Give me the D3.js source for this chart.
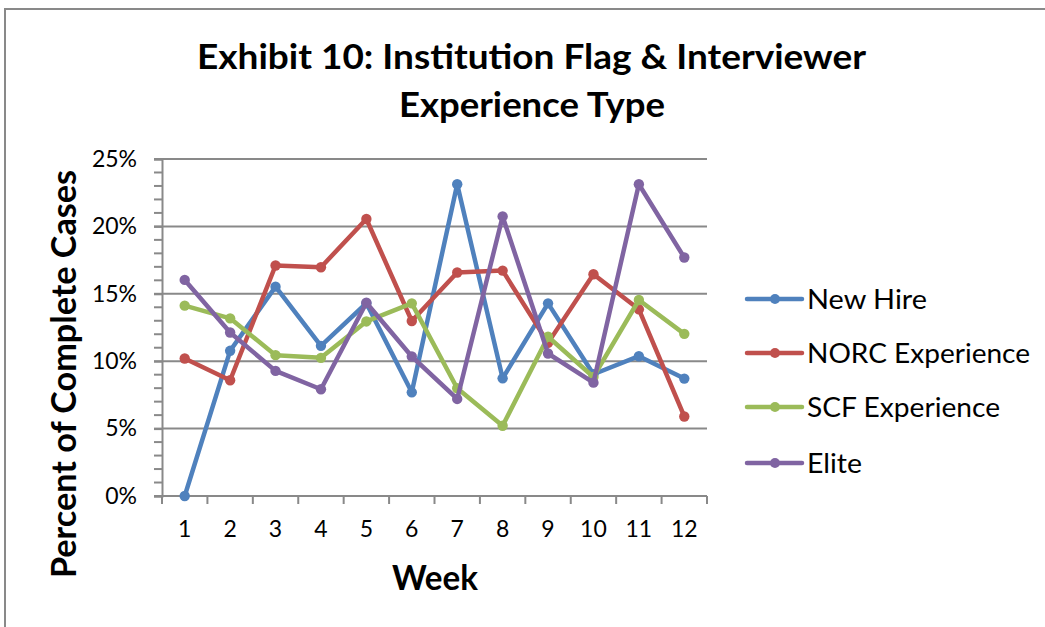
<!DOCTYPE html>
<html>
<head>
<meta charset="utf-8">
<script src="https://cdn.jsdelivr.net/npm/d3@7/dist/d3.min.js"></script>
<style>
  html, body { margin: 0; padding: 0; background: #fff; }
  svg { display: block; }
  text { font-family: Lato, "Open Sans", sans-serif; fill: #000; }
</style>
</head>
<body>
<svg id="chart" width="1045" height="627"></svg>
<script>
// ---- Data ----
const weeks = ["1","2","3","4","5","6","7","8","9","10","11","12"];
const seriesNames = ["New Hire", "NORC Experience", "SCF Experience", "Elite"];
const newHire = [0.00, 10.77, 15.53, 11.14, 14.30, 7.69, 23.13, 8.73, 14.29, 9.03, 10.37, 8.71];
const norcExperience = [10.20, 8.59, 17.10, 16.97, 20.55, 12.98, 16.58, 16.72, 11.36, 16.45, 13.85, 5.90];
const scfExperience = [14.12, 13.18, 10.45, 10.25, 12.95, 14.29, 7.99, 5.21, 11.81, 8.83, 14.54, 12.03];
const elite = [16.03, 12.13, 9.28, 7.92, 14.34, 10.35, 7.20, 20.74, 10.57, 8.41, 23.13, 17.69];
const yTicks = [0, 5, 10, 15, 20, 25];
const yTickLabels = ["0%", "5%", "10%", "15%", "20%", "25%"];
const colors = ["#4F81BD", "#C0504D", "#9BBB59", "#8064A2"];

const seriesValues = [newHire, norcExperience, scfExperience, elite];

const svg = d3.select("#chart");
const axisColor = "#898989";

// chart border
svg.append("rect")
  .attr("x", 5).attr("y", 9)
  .attr("width", 1100).attr("height", 700)
  .attr("fill", "none").attr("stroke", axisColor).attr("stroke-width", 2);

const plot = { left: 162, right: 707, top: 159, bottom: 496 };

const x = d3.scaleBand().domain(weeks).range([plot.left, plot.right]);
const y = d3.scaleLinear().domain([0, 25]).range([plot.bottom, plot.top]);

// gridlines
svg.append("g").selectAll("line")
  .data(yTicks.filter(d => d > 0))
  .join("line")
  .attr("x1", plot.left).attr("x2", plot.right)
  .attr("y1", d => y(d)).attr("y2", d => y(d))
  .attr("stroke", axisColor).attr("stroke-width", 2);

// minor y ticks (every 1%)
svg.append("g").selectAll("line")
  .data(d3.range(0, 26, 1))
  .join("line")
  .attr("x1", plot.left - 8).attr("x2", plot.left)
  .attr("y1", d => y(d)).attr("y2", d => y(d))
  .attr("stroke", axisColor).attr("stroke-width", 2);

// y axis
const yAxis = d3.axisLeft(y)
  .tickValues(yTicks)
  .tickFormat((d, i) => yTickLabels[i])
  .tickSize(8).tickPadding(17);
const gy = svg.append("g").attr("transform", `translate(${plot.left},0)`).call(yAxis);
gy.select(".domain").attr("stroke", axisColor).attr("stroke-width", 2);
gy.selectAll(".tick line").attr("stroke", axisColor).attr("stroke-width", 2);
gy.selectAll(".tick text").style("font-family", "Lato").style("font-size", "23px").attr("fill", "#000");

// x axis (labels at band centers)
const xAxis = d3.axisBottom(x).tickSize(0).tickPadding(25);
const gx = svg.append("g").attr("transform", `translate(0,${plot.bottom})`).call(xAxis);
gx.select(".domain").remove();
gx.selectAll(".tick text").style("font-family", "Lato").style("font-size", "23px").attr("fill", "#000");

// x axis line + boundary ticks
svg.append("line")
  .attr("x1", plot.left).attr("x2", plot.right)
  .attr("y1", plot.bottom).attr("y2", plot.bottom)
  .attr("stroke", axisColor).attr("stroke-width", 2);
const boundaries = weeks.map(w => x(w)).concat([x(weeks[weeks.length - 1]) + x.bandwidth()]);
svg.append("g").selectAll("line")
  .data(boundaries)
  .join("line")
  .attr("x1", d => d).attr("x2", d => d)
  .attr("y1", plot.bottom).attr("y2", plot.bottom + 8)
  .attr("stroke", axisColor).attr("stroke-width", 2);

// lines and markers
const line = d3.line()
  .x((d, i) => x(weeks[i]) + x.bandwidth() / 2)
  .y(d => y(d));

seriesValues.forEach((vals, si) => {
  const g = svg.append("g");
  g.append("path")
    .datum(vals)
    .attr("d", line)
    .attr("fill", "none")
    .attr("stroke", colors[si])
    .attr("stroke-width", 4.5)
    .attr("stroke-linejoin", "round")
    .attr("stroke-linecap", "round");
  g.selectAll("circle")
    .data(vals)
    .join("circle")
    .attr("cx", (d, i) => x(weeks[i]) + x.bandwidth() / 2)
    .attr("cy", d => y(d))
    .attr("r", 5.2)
    .attr("fill", colors[si]);
});

// title
svg.append("text")
  .attr("x", 531.5).attr("y", 69)
  .attr("text-anchor", "middle")
  .style("font-weight", "bold").style("font-size", "35px")
  .attr("textLength", 669).attr("lengthAdjust", "spacingAndGlyphs")
  .text("Exhibit 10: Institution Flag & Interviewer");
svg.append("text")
  .attr("x", 532).attr("y", 117)
  .attr("text-anchor", "middle")
  .style("font-weight", "bold").style("font-size", "35px")
  .attr("textLength", 266).attr("lengthAdjust", "spacingAndGlyphs")
  .text("Experience Type");

// axis titles
svg.append("text")
  .attr("transform", "translate(76,374) rotate(-90)")
  .attr("text-anchor", "middle")
  .style("font-weight", "bold").style("font-size", "34px")
  .attr("textLength", 408).attr("lengthAdjust", "spacingAndGlyphs")
  .text("Percent of Complete Cases");
svg.append("text")
  .attr("x", 435).attr("y", 590)
  .attr("text-anchor", "middle")
  .style("font-weight", "bold").style("font-size", "34px")
  .attr("textLength", 86).attr("lengthAdjust", "spacingAndGlyphs")
  .text("Week");

// legend
const legendY = [299, 353, 407, 463];
const legendW = [120, 223, 193, 55];
const lg = svg.append("g");
seriesNames.forEach((name, i) => {
  lg.append("line")
    .attr("x1", 747).attr("x2", 802)
    .attr("y1", legendY[i]).attr("y2", legendY[i])
    .attr("stroke", colors[i]).attr("stroke-width", 4.5)
    .attr("stroke-linecap", "round");
  lg.append("circle")
    .attr("cx", 775).attr("cy", legendY[i]).attr("r", 5)
    .attr("fill", colors[i]);
  lg.append("text")
    .attr("x", 807).attr("y", legendY[i] + 9.5)
    .style("font-size", "26px")
    .attr("textLength", legendW[i]).attr("lengthAdjust", "spacingAndGlyphs")
    .text(name);
});
</script>
</body>
</html>
